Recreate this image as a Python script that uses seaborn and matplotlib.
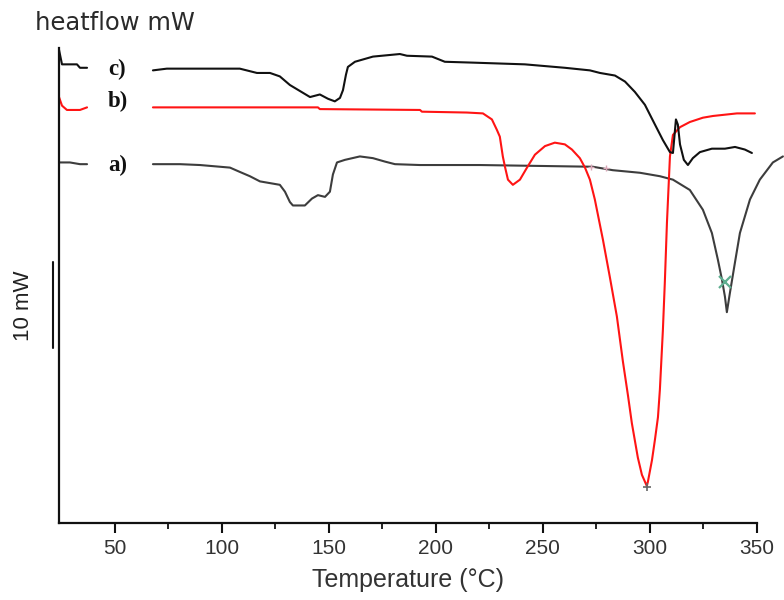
import matplotlib
matplotlib.use("Agg")
import matplotlib.pyplot as plt
import seaborn as sns
import pandas as pd
import numpy as np

# ---------------- data (temperature in °C, heat flow in mW, offset curves) -------------
# curve c) (black, top) : short lead-in segment left of the label, then the main trace
c_left_T = [24.0, 25.4, 32.4, 33.8, 37.1]
c_left_H = [55.0, 53.3, 53.3, 52.9, 52.9]
c_T = [67.9, 74.4, 108.5, 116.5, 122.6, 127.2, 131.9, 136.6, 141.3, 145.9, 149.7, 152.9,
       155.3, 156.7, 158.1, 159.0, 162.3, 170.7, 183.3, 186.6, 198.3, 204.3, 217.4, 241.7,
       260.4, 272.1, 276.8, 283.8, 288.5, 293.1, 297.8, 302.5, 306.2, 309.5, 310.9, 312.3,
       313.2, 314.2, 316.0, 317.9, 320.2, 323.5, 329.1, 335.2, 339.9, 344.5, 347.8]
c_H = [52.6, 52.8, 52.8, 52.3, 52.3, 51.9, 50.9, 50.2, 49.5, 49.8, 49.3, 49.0,
       49.4, 50.3, 52.1, 53.0, 53.6, 54.2, 54.5, 54.3, 54.2, 53.6, 53.5, 53.3,
       52.9, 52.6, 52.3, 52.0, 51.3, 50.1, 48.6, 46.3, 44.5, 43.1, 43.0, 46.9,
       46.3, 44.0, 42.2, 41.6, 42.4, 43.1, 43.5, 43.5, 43.7, 43.4, 43.0]

# curve b) (red, middle)
b_left_T = [24.0, 25.4, 27.7, 33.8, 37.1]
b_left_H = [49.5, 48.5, 48.0, 48.0, 48.3]
b_T = [67.9, 145.0, 145.9, 192.7, 193.6, 214.6, 222.1, 226.3, 228.6, 230.0, 231.4, 232.4,
       233.8, 236.1, 239.4, 242.7, 246.4, 251.1, 255.7, 260.4, 263.7, 267.4, 269.8, 272.1,
       274.4, 278.2, 281.4, 284.7, 287.5, 289.9, 291.7, 293.1, 294.5, 296.4, 298.7, 299.2,
       301.1, 302.5, 303.9, 304.8, 306.2, 307.1, 308.1, 309.5, 310.9, 314.2, 318.8, 324.9,
       329.6, 340.8, 349.2]
b_H = [48.3, 48.3, 48.1, 48.0, 47.8, 47.7, 47.6, 46.9, 45.7, 44.9, 42.6, 41.4,
       39.9, 39.3, 39.9, 41.3, 42.8, 43.8, 44.2, 44.0, 43.4, 42.4, 41.3, 39.9,
       37.6, 32.9, 28.6, 24.0, 18.8, 14.8, 11.6, 9.6, 7.6, 5.6, 4.3, 4.8,
       7.3, 9.7, 12.3, 15.5, 22.4, 27.9, 34.9, 42.6, 45.1, 46.0, 46.6, 47.1,
       47.3, 47.6, 47.6]

# curve a) (dark grey, bottom)
a_left_T = [24.0, 29.1, 33.8, 37.1]
a_left_H = [41.9, 41.9, 41.7, 41.7]
a_T = [67.9, 80.5, 89.9, 103.9, 108.5, 113.2, 117.9, 127.2, 129.6, 131.9, 133.3, 138.9,
       142.2, 145.0, 148.3, 150.6, 152.0, 153.9, 157.6, 164.6, 170.7, 176.3, 181.0, 192.7,
       220.7, 273.5, 282.8, 295.5, 304.8, 310.9, 318.8, 324.9, 329.1, 331.9, 333.8, 335.2,
       336.1, 337.5, 339.9, 342.2, 346.9, 351.5, 357.6, 362.3]
a_H = [41.7, 41.7, 41.6, 41.3, 40.8, 40.3, 39.7, 39.3, 38.5, 37.3, 36.9, 36.9,
       37.7, 38.1, 37.9, 38.5, 40.5, 41.9, 42.2, 42.6, 42.4, 42.0, 41.7, 41.6,
       41.6, 41.4, 41.0, 40.7, 40.3, 39.9, 38.7, 36.4, 33.7, 30.6, 28.3, 26.3,
       24.5, 26.7, 30.3, 33.7, 37.6, 39.9, 41.9, 42.6]

curve_labels = ["a)", "b)", "c)"]
label_T = 46.9
label_H = [41.6, 49.0, 52.7]

x_ticks = [50, 100, 150, 200, 250, 300, 350]
x_minor = [75, 125, 175, 225, 275, 325]
scale_bar_H = [20.3, 30.3]   # 10 mW scale bar
scale_bar_T = 21.2

# ---------------- figure --------------------------------------------------------------
sns.set_style("white")
plt.rcParams["font.family"] = ["Liberation Sans", "DejaVu Sans"]

fig = plt.figure(figsize=(7.84, 6.0), dpi=100)
ax = fig.add_axes([59 / 784, 1 - 523 / 600, 1 - 59 / 784, (523 - 48) / 600])


def seg_frame(left_T, left_H, T, H):
    return pd.DataFrame({
        "T": list(left_T) + list(T),
        "H": list(left_H) + list(H),
        "seg": [0] * len(left_T) + [1] * len(T),
    })


lw = 1.5
sns.lineplot(data=seg_frame(a_left_T, a_left_H, a_T, a_H), x="T", y="H", units="seg",
             estimator=None, sort=False, color="#3d3d3d", lw=lw, ax=ax, legend=False)
sns.lineplot(data=seg_frame(b_left_T, b_left_H, b_T, b_H), x="T", y="H", units="seg",
             estimator=None, sort=False, color="#ff1414", lw=lw, ax=ax, legend=False)
sns.lineplot(data=seg_frame(c_left_T, c_left_H, c_T, c_H), x="T", y="H", units="seg",
             estimator=None, sort=False, color="#111111", lw=lw, ax=ax, legend=False)

# small analysis markers
ax.plot([335.2], [28.0], marker="x", ms=9, mew=1.6, color="#5fae90", ls="none")
ax.plot([298.7], [4.2], marker="+", ms=6, mew=1.2, color="#666666", ls="none")
ax.plot([272.5, 279.5], [41.4, 41.3], marker="+", ms=5, mew=1.0, color="#d9a8b8", ls="none")

# curve labels
for lab, h in zip(curve_labels, label_H):
    ax.text(label_T, h, lab, fontsize=16.5, fontweight="bold", family="Liberation Serif",
            ha="left", va="center", color="#111111")

# scale bar
ax.plot([scale_bar_T, scale_bar_T], scale_bar_H, color="#111111", lw=1.5, clip_on=False)
ax.text(7.6, 25.3, "10 mW", rotation=90, ha="center", va="center", fontsize=16,
        color="#222222")

ax.set_xlim(24.0, 362.8)
ax.set_ylim(0, 55.2)
ax.set_xticks(x_ticks)
ax.set_xticks(x_minor, minor=True)
ax.set_xticklabels([str(t) for t in x_ticks])
ax.set_yticks([])
ax.tick_params(axis="x", which="major", direction="out", length=7.5, width=1.5,
               bottom=True, pad=4, labelsize=15, labelcolor="#333333", color="#111111")
ax.tick_params(axis="x", which="minor", direction="out", length=4, width=1.3,
               bottom=True, color="#111111")

for s in ["top", "right"]:
    ax.spines[s].set_visible(False)
for s in ["left", "bottom"]:
    ax.spines[s].set_linewidth(1.6)
    ax.spines[s].set_color("#111111")
ax.spines["bottom"].set_bounds(24.0, 350)

ax.set_ylabel("")
ax.set_xlabel("Temperature (°C)", fontsize=18, color="#333333")
ax.xaxis.label.set_va("center")
ax.xaxis.set_label_coords((408 - 59) / (784 - 59), (523 - 580) / (523 - 48))

fig.text(35 / 784, 1 - 23 / 600, "heatflow mW", fontsize=17.5, family="DejaVu Sans",
         ha="left", va="center", color="#2a2a2a")

fig.savefig("out.png", dpi=100)
